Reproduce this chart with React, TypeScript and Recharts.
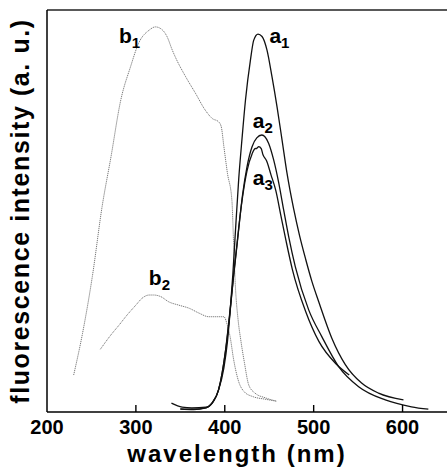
import { LineChart, Line, XAxis, YAxis, ReferenceDot } from 'recharts';

// emission spectra (black, solid)
const a1Wl = [350, 365, 378, 386, 393, 399, 403, 406, 409, 412, 415.7, 419.4, 423.3, 428.9, 432.6, 437.4, 441.9, 447.5, 453.1, 458.8, 464.4, 470, 477.5, 484, 491, 498, 505.6, 520.2, 535.6, 553.9, 573, 601];
const a1Int = [0.8, 0.7, 1.0, 2.2, 5.5, 11, 17.5, 25, 34, 45, 58, 68, 77.6, 87.6, 92.5, 94, 93.4, 90, 83.4, 75.9, 67.7, 59.4, 50.5, 44, 38, 32.5, 27.5, 18.5, 11.8, 7.2, 4.7, 3.0];

const a2Wl = [340, 352, 363, 379, 386, 393, 401, 406, 410, 414, 417.6, 420, 425, 430.7, 436, 441.6, 449.4, 455, 460.7, 466.3, 472, 479.4, 494.4, 509.3, 528.1, 550.6, 580.6, 610, 629];
const a2Int = [2.2, 1.2, 1.0, 1.2, 2.4, 5.5, 15.4, 25, 34, 42, 49.5, 54, 61, 66, 68.2, 68.9, 66.8, 62.7, 57, 50.2, 43.5, 36.1, 25.4, 18.7, 11.3, 6.3, 3.0, 1.3, 0.7];

const a3Wl = [350, 365, 379, 386, 393, 401, 406, 410, 414, 417.6, 420, 425, 430.7, 434, 436, 438.2, 441, 443, 447, 452, 457.5, 463, 469, 476, 491, 506, 525, 540];
const a3Int = [0.7, 0.6, 1.0, 2.3, 5.5, 15.6, 25.5, 34.2, 42.3, 49.5, 53.5, 60, 64.2, 65.5, 65.6, 66, 65.5, 64, 62.5, 59, 55, 49, 42.5, 35.5, 25, 17.5, 12, 9.2];

// excitation spectra (grey, dotted)
const b1Wl = [230, 240, 251, 262, 272, 283, 294, 303, 315, 322, 330, 335, 341, 345, 356, 367, 378, 386, 393, 396, 399, 403, 408, 410, 412, 415, 418, 422, 427, 434, 446, 458];
const b1Int = [9.2, 19.6, 33.7, 51.1, 63.5, 77.6, 85.9, 91.7, 95, 95.8, 95, 93.4, 90, 88, 83.4, 79.3, 75.1, 73, 72.2, 71, 66, 59.4, 52.7, 41.5, 31.1, 22.9, 17.9, 12.4, 6.7, 4.7, 3.5, 2.7];

const b2Wl = [260, 272, 281, 290, 300, 307, 315, 320, 328, 337, 348, 360, 371, 382, 393, 399, 403, 406, 410, 415, 422, 432, 445, 458];
const b2Int = [15.6, 19.2, 21.6, 24.1, 26.6, 28.3, 29.1, 29.1, 28.7, 27.4, 26.6, 25.8, 24.6, 23.7, 23.7, 23.7, 21.5, 18.7, 13, 8, 5, 3.8, 3.2, 2.7];

const xTicks = [200, 300, 400, 500, 600];

// curve labels
const labelMain = ['b', 'b', 'a', 'a', 'a'];
const labelSub = ['1', '2', '1', '2', '3'];
const labelWl = [280.9, 314.6, 450.2, 431.5, 431.5];
const labelInt = [91.8, 31.6, 91.8, 70.6, 56.5];

const zip = (wl: number[], val: number[]) => wl.map((w, i) => ({ wl: w, v: val[i] }));

const font = 'Arial, "Liberation Sans", sans-serif';

const XTick = (props: any) => {
  const { x, y, payload } = props;
  return (
    <g>
      {payload.value !== 200 && (
        <line x1={x} x2={x} y1={y} y2={y - 7} stroke="#000" strokeWidth={1.4} />
      )}
      <text x={x} y={y + 22} textAnchor="middle" fontSize={20} fontWeight="bold" fontFamily={font} fill="#000">
        {payload.value}
      </text>
    </g>
  );
};

const XTitle = (props: any) => {
  const vb = props.viewBox;
  return (
    <text x={vb.x + vb.width / 2 - 10} y={vb.y + 50} textAnchor="middle" fontSize={24} fontWeight="bold" letterSpacing={2} fontFamily={font} fill="#000">
      wavelength (nm)
    </text>
  );
};

const YTitle = (props: any) => {
  const vb = props.viewBox;
  const cx = vb.x + 29;
  const cy = vb.y + vb.height / 2;
  return (
    <text x={cx} y={cy} transform={`rotate(-90 ${cx} ${cy})`} textAnchor="middle" fontSize={25} fontWeight="bold" letterSpacing={1.6} fontFamily={font} fill="#000">
      fluorescence intensity (a. u.)
    </text>
  );
};

const CurveLabel = (main: string, sub: string) => (props: any) => (
  <text x={props.cx} y={props.cy} fontSize={21} fontWeight="bold" fontFamily={font} fill="#000">
    {main}
    <tspan fontSize={15} dy={5}>{sub}</tspan>
  </text>
);

export default function App() {
  return (
    <div style={{ position: 'absolute', left: 0, top: 0, background: '#fff' }}>
      <LineChart width={448} height={468} margin={{ top: 0, right: 1, bottom: 0, left: 0 }}>
        <XAxis
          dataKey="wl"
          type="number"
          domain={[200, 650]}
          ticks={xTicks}
          height={56}
          tickSize={0}
          tickMargin={0}
          tickLine={false}
          tick={<XTick />}
          axisLine={{ stroke: '#000', strokeWidth: 1.5 }}
          allowDataOverflow
          label={<XTitle />}
        />
        <XAxis
          xAxisId="top"
          orientation="top"
          type="number"
          domain={[200, 650]}
          height={10}
          tick={false}
          tickLine={false}
          axisLine={{ stroke: '#222', strokeWidth: 1.5 }}
        />
        <YAxis
          type="number"
          domain={[0, 100]}
          width={47}
          tick={false}
          tickLine={false}
          axisLine={{ stroke: '#000', strokeWidth: 1.5 }}
          label={<YTitle />}
        />
        <Line data={zip(b1Wl, b1Int)} dataKey="v" type="monotone" stroke="#7a7a7a" strokeWidth={1} strokeDasharray="1.2 0.8" dot={false} isAnimationActive={false} />
        <Line data={zip(b2Wl, b2Int)} dataKey="v" type="monotone" stroke="#7a7a7a" strokeWidth={1} strokeDasharray="1.2 0.8" dot={false} isAnimationActive={false} />
        <Line data={zip(a1Wl, a1Int)} dataKey="v" type="monotone" stroke="#111" strokeWidth={1.3} dot={false} isAnimationActive={false} />
        <Line data={zip(a2Wl, a2Int)} dataKey="v" type="monotone" stroke="#111" strokeWidth={1.3} dot={false} isAnimationActive={false} />
        <Line data={zip(a3Wl, a3Int)} dataKey="v" type="monotone" stroke="#111" strokeWidth={1.3} dot={false} isAnimationActive={false} />
        {labelMain.map((m, i) => (
          <ReferenceDot key={i} x={labelWl[i]} y={labelInt[i]} r={0} shape={CurveLabel(m, labelSub[i])} />
        ))}
      </LineChart>
    </div>
  );
}
